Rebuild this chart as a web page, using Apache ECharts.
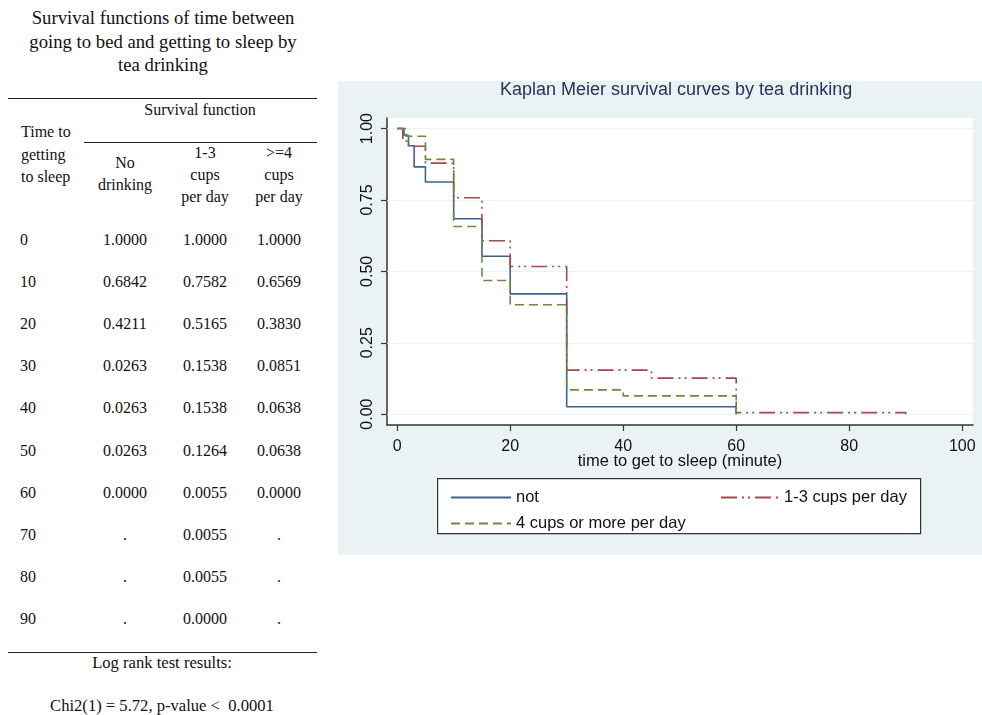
<!DOCTYPE html>
<html>
<head>
<meta charset="utf-8">
<script src="https://cdn.jsdelivr.net/npm/echarts@6/dist/echarts.min.js"></script>
<style>
body{margin:0;background:#fff;width:982px;height:715px;position:relative;overflow:hidden;font-family:"Liberation Serif","DejaVu Serif",serif;color:#111;}
.t{position:absolute;white-space:pre;transform:translate(-50%,-50%);line-height:1;}
.l{position:absolute;white-space:pre;transform:translateY(-50%);line-height:1;}
.rule{position:absolute;height:0;border-top:1.5px solid #222;}
#km{position:absolute;left:338px;top:81px;width:644px;height:474px;}
</style>
</head>
<body>
<div id="tbl"></div>
<div id="km"></div>
<script>
// 左侧表格数据
var tableTimes = ['0', '10', '20', '30', '40', '50', '60', '70', '80', '90'];
var tableNoDrink = ['1.0000', '0.6842', '0.4211', '0.0263', '0.0263', '0.0263', '0.0000', '.', '.', '.'];
var tableOneToThree = ['1.0000', '0.7582', '0.5165', '0.1538', '0.1538', '0.1264', '0.0055', '0.0055', '0.0055', '0.0000'];
var tableFourPlus = ['1.0000', '0.6569', '0.3830', '0.0851', '0.0638', '0.0638', '0.0000', '.', '.', '.'];

// KM 曲线 (分钟, 生存率)
var notTime = [0, 1.2, 2, 3, 5, 10, 15, 20, 30, 60];
var notSurv = [1, 0.976, 0.94, 0.866, 0.813, 0.684, 0.553, 0.421, 0.026, 0];
var lowTime = [0, 1, 2, 5, 10, 15, 20, 30, 45, 60, 90];
var lowSurv = [1, 0.956, 0.938, 0.879, 0.758, 0.607, 0.517, 0.154, 0.126, 0.0055, 0];
var highTime = [0, 1.6, 5, 10, 15, 20, 30, 40, 60];
var highSurv = [1, 0.973, 0.892, 0.657, 0.468, 0.383, 0.085, 0.064, 0];

var xTicks = [0, 20, 40, 60, 80, 100];
var yTicks = [0, 0.25, 0.5, 0.75, 1];

// 表格
var tbl = document.getElementById('tbl');
function txt(cls, x, y, s, size) {
    var d = document.createElement('div');
    d.className = cls;
    d.style.left = x + 'px';
    d.style.top = y + 'px';
    d.style.fontSize = size + 'px';
    d.textContent = s;
    tbl.appendChild(d);
}
function rule(x1, x2, y) {
    var d = document.createElement('div');
    d.className = 'rule';
    d.style.left = x1 + 'px';
    d.style.width = (x2 - x1) + 'px';
    d.style.top = y + 'px';
    tbl.appendChild(d);
}
txt('t', 163, 18, 'Survival functions of time between', 18.7);
txt('t', 163, 42, 'going to bed and getting to sleep by', 18.7);
txt('t', 163, 65, 'tea drinking', 18.7);
rule(8, 317, 98);
txt('t', 200, 110, 'Survival function', 16);
rule(84, 317, 142);
txt('l', 21, 132, 'Time to', 16);
txt('l', 21, 155, 'getting', 16);
txt('l', 21, 177, 'to sleep', 16);
txt('t', 125, 163, 'No', 16);
txt('t', 125, 185, 'drinking', 16);
txt('t', 205, 153, '1-3', 16);
txt('t', 205, 175, 'cups', 16);
txt('t', 205, 197, 'per day', 16);
txt('t', 279, 153, '>=4', 16);
txt('t', 279, 175, 'cups', 16);
txt('t', 279, 197, 'per day', 16);
for (var i = 0; i < tableTimes.length; i++) {
    var y = 240 + i * 42.1;
    txt('l', 20, y, tableTimes[i], 16);
    txt('t', 125, y, tableNoDrink[i], 16);
    txt('t', 205, y, tableOneToThree[i], 16);
    txt('t', 279, y, tableFourPlus[i], 16);
}
rule(8, 317, 652);
txt('t', 162, 663, 'Log rank test results:', 16.6);
txt('t', 162, 706, 'Chi2(1) = 5.72, p-value <  0.0001', 16.6);

// KM 图
function pairs(t, s) {
    return t.map(function (v, i) { return [v, s[i]]; });
}
var myChart = echarts.init(document.getElementById('km'));
option = {
    animation: false,
    backgroundColor: '#eaf2f3',
    textStyle: { fontFamily: 'Liberation Sans, Arial, sans-serif' },
    title: {
        text: 'Kaplan Meier survival curves by tea drinking',
        left: 162,
        top: 0,
        padding: 0,
        textStyle: { fontSize: 18, fontWeight: 'normal', color: '#26345a' }
    },
    grid: {
        left: 49, right: 9, top: 37, bottom: 130,
        show: true, backgroundColor: '#fff', borderWidth: 0
    },
    legend: [
        {
            data: ['not', '4 cups or more per day'],
            orient: 'vertical',
            left: 107, top: 403,
            itemWidth: 60, itemHeight: 14, itemGap: 9,
            itemStyle: { opacity: 0 },
            textStyle: { fontSize: 16.5, color: '#111' }
        },
        {
            data: ['1-3 cups per day'],
            left: 377, top: 403,
            itemWidth: 58, itemHeight: 14,
            itemStyle: { opacity: 0 },
            textStyle: { fontSize: 16.5, color: '#111' }
        }
    ],
    graphic: [{
        type: 'rect', left: 99, top: 397, z: 1,
        shape: { width: 483, height: 55 },
        style: { fill: '#fff', stroke: '#333', lineWidth: 1.2 }
    }],
    xAxis: {
        type: 'value', min: -1.8, max: 101.9,
        name: 'time to get to sleep (minute)',
        nameLocation: 'middle', nameGap: 28, nameMoveOverlap: false,
        nameTextStyle: { fontSize: 16.5, color: '#111' },
        axisLine: { show: true, onZero: false, lineStyle: { color: '#333', width: 1.5 } },
        axisTick: { show: true, customValues: xTicks, length: 6, lineStyle: { color: '#333', width: 1.2 } },
        axisLabel: { customValues: xTicks, fontSize: 16, color: '#111', margin: 14 },
        splitLine: { show: false }
    },
    yAxis: {
        type: 'value', min: -0.038, max: 1.037,
        axisLine: { show: true, onZero: false, lineStyle: { color: '#333', width: 1.5 } },
        axisTick: { show: true, customValues: yTicks, length: 6, lineStyle: { color: '#333', width: 1.2 } },
        axisLabel: {
            customValues: yTicks, rotate: 90, fontSize: 16, color: '#111', margin: 11,
            formatter: function (v) { return v.toFixed(2); }
        },
        splitLine: { show: false }
    },
    series: [
        {
            name: 'gridlines', type: 'line', data: [], silent: true,
            markLine: {
                z: 1, silent: true, symbol: ['none', 'none'], label: { show: false },
                lineStyle: { color: '#eaf2f3', width: 1.2, type: 'solid' },
                data: yTicks.map(function (v) { return { yAxis: v }; })
            }
        },
        {
            name: 'not', type: 'line', step: 'end', symbol: 'none', z: 3,
            data: pairs(notTime, notSurv),
            itemStyle: { color: '#3d6390' },
            lineStyle: { color: '#3d6390', width: 1.6, type: 'solid' }
        },
        {
            name: '1-3 cups per day', type: 'line', step: 'end', symbol: 'none', z: 4,
            data: pairs(lowTime, lowSurv),
            itemStyle: { color: '#a8474d' },
            lineStyle: { color: '#a8474d', width: 1.6, type: [16, 5, 2, 4, 2, 5] }
        },
        {
            name: '4 cups or more per day', type: 'line', step: 'end', symbol: 'none', z: 5,
            data: pairs(highTime, highSurv),
            itemStyle: { color: '#6b8c3e' },
            lineStyle: { color: '#6b8c3e', width: 1.6, type: [9, 5] }
        }
    ]
};
myChart.setOption(option);
</script>
</body>
</html>
